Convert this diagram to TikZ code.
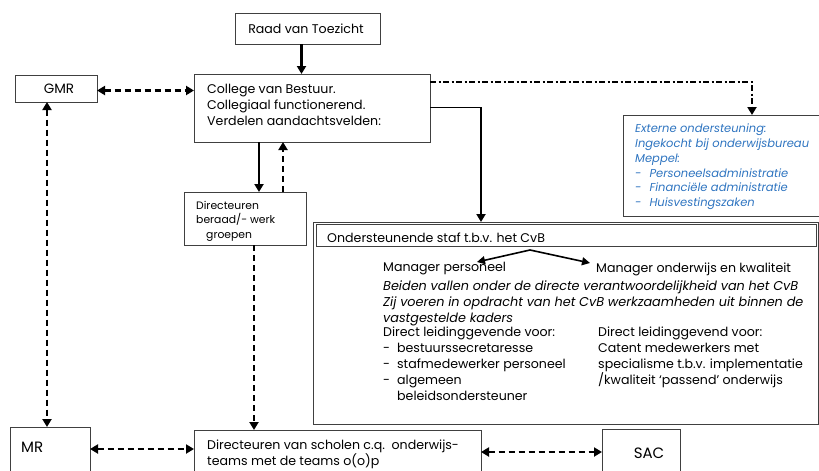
\documentclass[tikz,border=0pt]{standalone}
\usepackage{fontspec}
\setmainfont{Poppins}
\usetikzlibrary{arrows.meta}
\definecolor{bord}{HTML}{404040}
\definecolor{extblue}{HTML}{2E74C0}
\tikzset{
  x=1pt, y=-1pt,
  box/.style={draw=bord, line width=0.9pt, anchor=north west, inner sep=0pt, outer sep=0pt},
  mainfont/.style={font=\fontsize{12.6}{16}\selectfont},
  lbl/.style={anchor=north west, inner sep=0pt, align=left, mainfont},
  one/.style={anchor=west, inner sep=0pt, mainfont},
  arr/.style={line width=2.1pt, -{Triangle[length=8pt,width=9pt]}},
  barr/.style={line width=2.1pt, {Triangle[length=8pt,width=9pt]}-{Triangle[length=8pt,width=9pt]}},
  dsh/.style={dash pattern=on 6pt off 4pt},
  dshdot/.style={dash pattern=on 6pt off 2.5pt on 2pt off 2.5pt},
  thinarr/.style={line width=1.6pt, -{Triangle[length=8pt,width=8pt]}}
}
\begin{document}
\begin{tikzpicture}
\useasboundingbox (0,0) rectangle (819,471);
\clip (0,0) rectangle (819,471);
% boxes
\node[box, minimum width=145pt, minimum height=31pt] (rvt) at (235,13) {};
\node[box, minimum width=82pt, minimum height=27pt] (gmr) at (15,75) {};
\node[box, minimum width=236pt, minimum height=68pt] (cvb) at (194,74) {};
\node[box, minimum width=200pt, minimum height=101pt] (ext) at (623,115) {};
\node[box, minimum width=122pt, minimum height=53pt] (ber) at (184,192) {};
\node[box, minimum width=505pt, minimum height=202pt] (staf) at (313,222) {};
\node[box, minimum width=500pt, minimum height=22pt] (stafh) at (316,224) {};
\node[box, minimum width=80pt, minimum height=50pt] (mr) at (10,427) {};
\node[box, minimum width=287pt, minimum height=50pt] (dir) at (194,430) {};
\node[box, minimum width=78pt, minimum height=50pt] (sac) at (602,429) {};
% texts
\node[inner sep=0pt, mainfont] (trvt) at (306,29) {Raad van Toezicht};
\node[inner sep=0pt, font=\fontsize{13.5}{16}\selectfont] (tgmr) at (59,89) {GMR};
\node[lbl] (tcvb) at (207,84) {College van Bestuur.\\Collegiaal functionerend.\\Verdelen aandachtsvelden:};
\node[lbl, text=extblue, font=\fontsize{11.5}{14.7}\selectfont\itshape] (text) at (635,124)
  {Externe ondersteuning:\\Ingekocht bij onderwijsbureau\\Meppel:\\-\hspace{8pt}Personeelsadministratie\\-\hspace{8pt}Financiële administratie\\-\hspace{8pt}Huisvestingszaken};
\node[lbl, font=\fontsize{10.8}{14.5}\selectfont] (tber) at (196,201) {Directeuren\\beraad/- werk\\\hspace{10pt}groepen};
\node[one] (tstaf) at (327,238) {Ondersteunende staf t.b.v. het CvB};
\node[one] (mp) at (383,269) {Manager personeel};
\node[one] (mok) at (596,269) {Manager onderwijs en kwaliteit};
\node[lbl, font=\fontsize{12.8}{15.7}\selectfont\itshape] (tbeid) at (383,281)
  {Beiden vallen onder de directe verantwoordelijkheid van het CvB\\Zij voeren in opdracht van het CvB werkzaamheden uit binnen de\\vastgestelde kaders};
\node[lbl] (tleft) at (383,327) {Direct leidinggevende voor:\\-\hspace{7pt}bestuurssecretaresse\\-\hspace{7pt}stafmedewerker personeel\\-\hspace{7pt}algemeen\\\hspace{14pt}beleidsondersteuner};
\node[lbl] (tright) at (598,327) {Direct leidinggevend voor:\\Catent medewerkers met\\specialisme t.b.v. implementatie\\/kwaliteit ‘passend’ onderwijs};
\node[anchor=west, inner sep=0pt, font=\fontsize{15}{16}\selectfont] (tmr) at (21,447) {MR};
\node[lbl] (tdir) at (207,440) {Directeuren van scholen c.q.\ \ onderwijs-\\teams met de teams o(o)p};
\node[inner sep=0pt, font=\fontsize{15}{16}\selectfont] (tsac) at (649,453) {SAC};
% connectors
\draw[arr] ([xshift=-6pt]rvt.south) -- ([xshift=-6pt]rvt.south |- cvb.north);
\draw[barr, dsh] ([yshift=-2pt]gmr.east) -- ([yshift=-2pt]gmr.east -| cvb.west);
\coordinate (dd) at (752,82);
\draw[line width=2.1pt, dshdot, -{Triangle[length=8pt,width=9pt]}] (cvb.east |- dd) -- (dd) -- (dd |- ext.north);
\coordinate (sc) at (481,107);
\draw[line width=1pt] (cvb.east |- sc) -- (sc);
\draw[arr] (sc) -- (sc |- staf.north);
\draw[arr] (cvb.south -| 259,0) -- (ber.north -| 259,0);
\draw[arr, dsh] (ber.north -| 283,0) -- (cvb.south -| 283,0);
\draw[barr, dsh] (gmr.south -| 47,0) -- (mr.north -| 47,0);
\draw[arr, dsh] (ber.south -| 254,0) -- (dir.north -| 254,0);
\draw[barr, dsh] (mr.east |- 0,449) -- (dir.west |- 0,449);
\draw[barr, dsh] (dir.east |- 0,452) -- (sac.west |- 0,452);
\coordinate (mid) at (530,250);
\coordinate (mpt) at (477,262);
\coordinate (mokt) at (590,263);
\draw[thinarr] (mid) -- (mpt);
\draw[thinarr] (mid) -- (mokt);
\end{tikzpicture}
\end{document}
